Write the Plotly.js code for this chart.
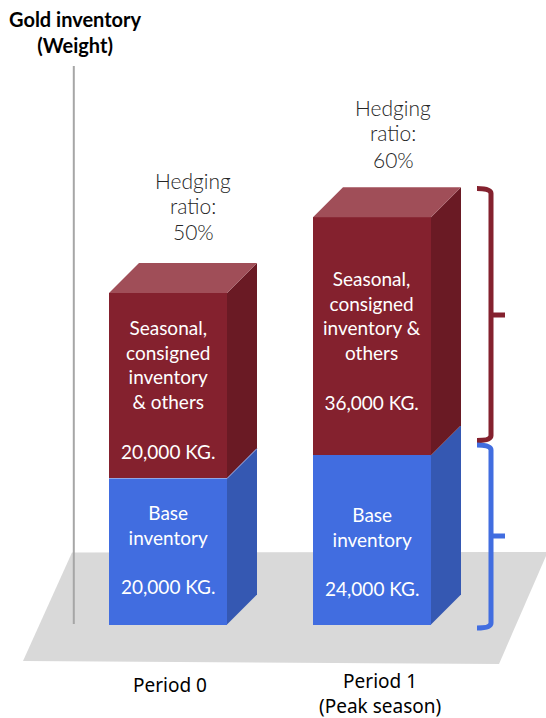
<!DOCTYPE html>
<html>
<head>
<meta charset="utf-8">
<script src="https://cdn.plot.ly/plotly-3.0.1.min.js"></script>
<style>html,body{margin:0;padding:0;background:#fff;}#chart{width:546px;height:718px;}</style>
</head>
<body>
<div id="chart"></div>
<script>
// The picture has no numeric axis and its bars are not to scale with their printed labels,
// so the drawn heights (in thousand KG of a notional axis) are kept apart from the printed text.
var categories = ["Period 0", "Period 1<br>(Peak season)"];
var baseHeights = [20.0, 23.2];
var seasonalHeights = [25.4, 32.6];
var baseLabels = ["20,000 KG.", "24,000 KG."];
var seasonalLabels = ["20,000 KG.", "36,000 KG."];
var hedgingRatios = ["50%", "60%"];
var seasonalText = ["Seasonal,<br>consigned<br>inventory<br>& others", "Seasonal,<br>consigned<br>inventory &<br>others"];
var baseText = "Base<br>inventory";

var W = 546, H = 718;
var xPerPx = 1 / 204, yPerPx = 1 / 7.3;
var zeroX = 168, zeroY = 624.5;
var barW = 118 * xPerPx, dx = 30 * xPerPx, dy = 30 * yPerPx;
var xs = [0, 1];
var C = {
  redFront: "#84212E", redSide: "#6A1A24", redTop: "#A04E58",
  blueFront: "#416DE0", blueSide: "#3558B2", seam: "#8FA6E8",
  floor: "#D9D9D9", axis: "#A6A6A6"
};

function px(x) { return x / W; }
function py(y) { return 1 - y / H; }

var traces = [
  { type: "bar", x: xs, y: baseHeights, width: barW, marker: { color: C.blueFront, line: { width: 0 } }, hoverinfo: "skip" },
  { type: "bar", x: xs, y: seasonalHeights, width: barW, marker: { color: C.redFront, line: { width: 0 } }, hoverinfo: "skip" }
];
function face(xa, ya, color) {
  traces.push({ type: "scatter", mode: "lines", x: xa, y: ya, fill: "toself", fillcolor: color,
    line: { width: 0, color: color }, hoverinfo: "skip" });
}
xs.forEach(function (c, i) {
  var l = c - barW / 2, r = c + barW / 2, b = baseHeights[i], t = b + seasonalHeights[i];
  face([r, r + dx, r + dx, r, r], [0, dy, b + dy, b, 0], C.blueSide);
  face([r, r + dx, r + dx, r, r], [b, b + dy, t + dy, t, b], C.redSide);
  face([l, l + dx, r + dx, r, l], [t, t + dy, t + dy, t, t], C.redTop);
});
// pale seam between the two blocks of the first column
traces.push({ type: "scatter", mode: "lines",
  x: [xs[0] - barW / 2, xs[0] + barW / 2, xs[0] + barW / 2 + dx],
  y: [baseHeights[0], baseHeights[0], baseHeights[0] + dy],
  line: { color: C.seam, width: 1 }, hoverinfo: "skip" });

function brace(yTop, yMid, yBot, color) {
  var xv = 491, xe = 477, xt = 505;
  return { type: "path", xref: "paper", yref: "paper", line: { color: color, width: 5 },
    path: "M " + px(xe) + " " + py(yTop) +
      " Q " + px(xv) + " " + py(yTop) + " " + px(xv) + " " + py(yTop + 5) +
      " L " + px(xv) + " " + py(yMid) +
      " L " + px(xt) + " " + py(yMid) +
      " L " + px(xv) + " " + py(yMid) +
      " L " + px(xv) + " " + py(yBot - 5) +
      " Q " + px(xv) + " " + py(yBot) + " " + px(xe) + " " + py(yBot) };
}

var shapes = [
  { type: "path", layer: "below", xref: "paper", yref: "paper", line: { width: 0 }, fillcolor: C.floor,
    path: "M " + px(23) + " " + py(661) + " L " + px(72) + " " + py(552.5) + " L " + px(546) + " " + py(552) +
      " L " + px(546) + " " + py(556) + " L " + px(499) + " " + py(664) + " Z" },
  { type: "line", layer: "below", xref: "paper", yref: "paper", x0: px(73.8), x1: px(73.8), y0: py(66), y1: py(624),
    line: { color: C.axis, width: 2 } },
  brace(188.5, 315, 440.5, C.redFront),
  brace(445, 536, 628, C.blueFront)
];

function note(text, x, y, font) {
  return { text: text, x: px(x), y: py(y), xref: "paper", yref: "paper", showarrow: false,
    xanchor: "center", yanchor: "middle", align: "center", font: font };
}
var white = { family: "Lato, sans-serif", size: 19, color: "#FFFFFF" };
var thin = { family: "Lato, sans-serif", size: 21, color: "#262626", weight: 300 };
var cat = { family: "'Noto Sans', sans-serif", size: 19, color: "#000000" };
var annotations = [
  note("Gold inventory<br>(Weight)", 75, 32, { family: "Lato, sans-serif", size: 20, color: "#000000", weight: 700 }),
  note("Hedging", 193, 180, thin), note("ratio:", 193, 205, thin), note(hedgingRatios[0], 193, 231, thin),
  note("Hedging", 393, 108, thin), note("ratio:", 393, 133, thin), note(hedgingRatios[1], 393, 159, thin),
  note(seasonalText[0] + "<br><br>" + seasonalLabels[0], 168, 389, white),
  note(seasonalText[1] + "<br><br>" + seasonalLabels[1], 372, 340.5, white),
  note(baseText + "<br><br>" + baseLabels[0], 168, 549, white),
  note(baseText + "<br><br>" + baseLabels[1], 372, 551, white),
  note(categories[0], 170, 685, cat),
  note(categories[1], 380, 693.5, cat)
];

var layout = {
  width: W, height: H, margin: { l: 0, r: 0, t: 0, b: 0 }, autosize: false,
  paper_bgcolor: "#FFFFFF", plot_bgcolor: "rgba(0,0,0,0)",
  showlegend: false, barmode: "stack", bargap: 0,
  xaxis: { range: [(0 - zeroX) * xPerPx, (W - zeroX) * xPerPx], visible: false, fixedrange: true },
  yaxis: { range: [(zeroY - H) * yPerPx, zeroY * yPerPx], visible: false, fixedrange: true },
  shapes: shapes, annotations: annotations
};
Plotly.newPlot("chart", traces, layout, { displayModeBar: false, staticPlot: true });
</script>
</body>
</html>
